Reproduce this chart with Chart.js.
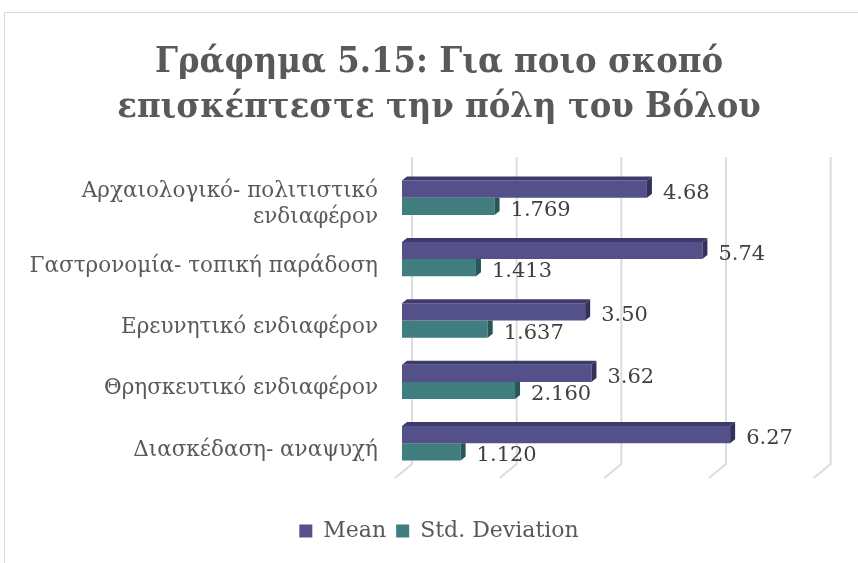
<!DOCTYPE html>
<html>
<head>
<meta charset="utf-8">
<script src="https://cdn.jsdelivr.net/npm/chart.js@4.4.1/dist/chart.umd.min.js"></script>
<style>
  html, body { margin: 0; padding: 0; background: #ffffff; overflow: hidden; }
  #frame {
    position: absolute; left: 4px; top: 12px;
    width: 870px; height: 570px;
    border: 1px solid #d9d9d9; box-sizing: border-box;
  }
  #chart { position: absolute; left: 0; top: 0; }
</style>
</head>
<body>
<div id="frame"><canvas id="chart" width="868" height="568"></canvas></div>
<script>
// datos
const categorias = [
    ['Αρχαιολογικό- πολιτιστικό', 'ενδιαφέρον'],
    'Γαστρονομία- τοπική παράδοση',
    'Ερευνητικό ενδιαφέρον',
    'Θρησκευτικό ενδιαφέρον',
    'Διασκέδαση- αναψυχή'
];
const mediaValores = [4.68, 5.74, 3.50, 3.62, 6.27];
const desviacionValores = [1.769, 1.413, 1.637, 2.160, 1.120];
const nombresSeries = ['Mean', 'Std. Deviation'];
const decimales = [2, 3];
const ejeTicks = [0, 2, 4, 6, 8];

const colores = {
    mean: '#54508a',
    meanTop: '#3e3b6c',
    meanSide: '#33305b',
    std: '#3f7d7e',
    stdSide: '#285556',
    grid: '#dcdcdc',
    texto: '#595959',
    etiqueta: '#404040'
};

const fuenteSerif = "Georgia, 'DejaVu Serif', 'Liberation Serif', serif";

// lineas de la cuadricula con efecto 3D (pared del fondo + suelo inclinado)
const cuadricula3d = {
    id: 'cuadricula3d',
    beforeDatasetsDraw(chart) {
        const { ctx, chartArea, scales } = chart;
        ctx.save();
        ctx.strokeStyle = colores.grid;
        ctx.lineWidth = 2;
        ejeTicks.forEach(v => {
            const x = scales.x.getPixelForValue(v) + 10;
            ctx.beginPath();
            ctx.moveTo(x, chartArea.top - 10);
            ctx.lineTo(x, chartArea.bottom - 10);
            ctx.lineTo(x - 17, chartArea.bottom + 4);
            ctx.stroke();
        });
        ctx.restore();
    }
};

// caras superior y lateral de las barras
const barras3d = {
    id: 'barras3d',
    afterDatasetsDraw(chart) {
        const { ctx } = chart;
        const dx = 5, dy = 4;
        ctx.save();
        chart.data.datasets.forEach((ds, i) => {
            const meta = chart.getDatasetMeta(i);
            meta.data.forEach(bar => {
                const top = bar.y - bar.height / 2;
                const bottom = bar.y + bar.height / 2;
                const x = bar.x;
                if (i === 0) {
                    ctx.fillStyle = colores.meanTop;
                    ctx.beginPath();
                    ctx.moveTo(bar.base, top);
                    ctx.lineTo(bar.base + dx, top - dy);
                    ctx.lineTo(x + dx, top - dy);
                    ctx.lineTo(x, top);
                    ctx.closePath();
                    ctx.fill();
                    ctx.fillStyle = colores.meanSide;
                    ctx.beginPath();
                    ctx.moveTo(x, top);
                    ctx.lineTo(x + dx, top - dy);
                    ctx.lineTo(x + dx, bottom - dy);
                    ctx.lineTo(x, bottom);
                    ctx.closePath();
                    ctx.fill();
                } else {
                    ctx.fillStyle = colores.stdSide;
                    ctx.beginPath();
                    ctx.moveTo(x, top);
                    ctx.lineTo(x + dx, top);
                    ctx.lineTo(x + dx, bottom - dy);
                    ctx.lineTo(x, bottom);
                    ctx.closePath();
                    ctx.fill();
                }
            });
        });
        ctx.restore();
    }
};

// etiquetas de valores
const etiquetasValores = {
    id: 'etiquetasValores',
    afterDraw(chart) {
        const { ctx } = chart;
        ctx.save();
        ctx.font = '21px ' + fuenteSerif;
        ctx.fillStyle = colores.etiqueta;
        ctx.textAlign = 'left';
        ctx.textBaseline = 'middle';
        chart.data.datasets.forEach((ds, i) => {
            const meta = chart.getDatasetMeta(i);
            meta.data.forEach((bar, j) => {
                ctx.fillText(ds.data[j].toFixed(decimales[i]), bar.x + 16, bar.y + 4);
            });
        });
        ctx.restore();
    }
};

new Chart(document.getElementById('chart'), {
    type: 'bar',
    data: {
        labels: categorias,
        datasets: [{
            label: nombresSeries[0],
            data: mediaValores,
            backgroundColor: colores.mean,
            borderWidth: 0
        }, {
            label: nombresSeries[1],
            data: desviacionValores,
            backgroundColor: colores.std,
            borderWidth: 0
        }]
    },
    options: {
        indexAxis: 'y',
        responsive: false,
        animation: false,
        categoryPercentage: 0.56,
        barPercentage: 1.0,
        layout: { padding: { left: 0, right: 0, top: 0, bottom: 29 } },
        scales: {
            x: {
                min: 0,
                max: 9,
                ticks: { display: false, stepSize: 2 },
                grid: { display: false },
                border: { display: false },
                afterFit(scale) { scale.height = 36; }
            },
            y: {
                grid: { display: false, drawTicks: false },
                border: { display: false },
                ticks: {
                    color: colores.texto,
                    padding: 24,
                    labelOffset: 7,
                    font: { family: fuenteSerif, size: 21.5, lineHeight: 1.2 }
                },
                afterFit(scale) { scale.width = 397; }
            }
        },
        plugins: {
            title: {
                display: true,
                text: ['Γράφημα 5.15: Για ποιο σκοπό', 'επισκέπτεστε την πόλη του Βόλου'],
                color: colores.texto,
                font: { family: "'DejaVu Serif Condensed', 'Liberation Serif', serif", size: 36, weight: 'bold', lineHeight: 1.25 },
                padding: { top: 27, bottom: 37 }
            },
            legend: {
                position: 'bottom',
                labels: {
                    color: colores.texto,
                    boxWidth: 13,
                    boxHeight: 13,
                    padding: 10,
                    font: { family: fuenteSerif, size: 22 }
                }
            },
            tooltip: { enabled: false }
        }
    },
    plugins: [cuadricula3d, barras3d, etiquetasValores]
});
</script>
</body>
</html>
